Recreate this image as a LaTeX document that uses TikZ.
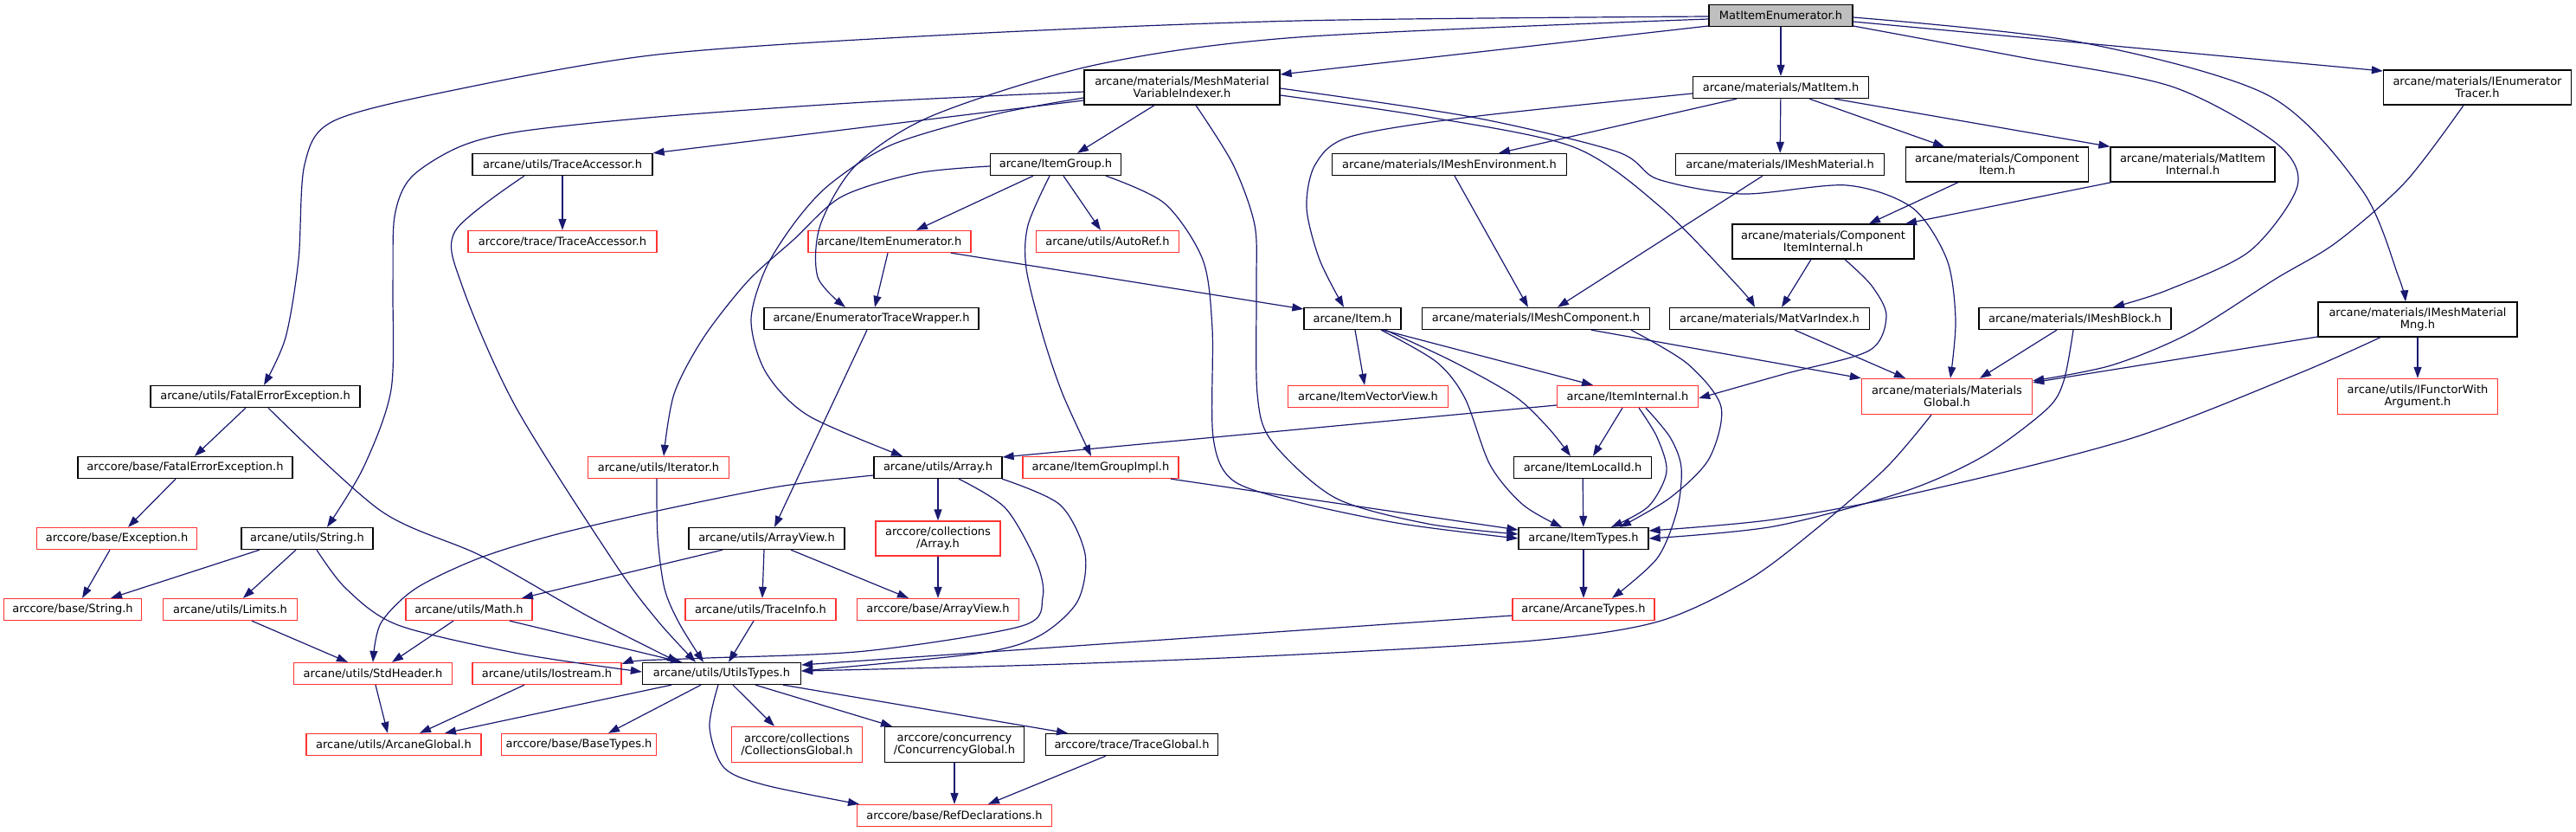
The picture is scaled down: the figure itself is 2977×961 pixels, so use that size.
\documentclass[tikz,border=0pt]{standalone}
\usepackage{fontspec}
\setmainfont{DejaVu Sans}
\usetikzlibrary{arrows.meta}
\definecolor{edgec}{HTML}{191970}
\definecolor{redb}{HTML}{FF3333}
\definecolor{rootfill}{HTML}{BFBFBF}
\begin{document}
\begin{tikzpicture}[x=1pt,y=-1pt,
  box/.style={draw=black, line width=1.3pt, fill=white, minimum height=25pt, inner sep=0pt, align=center, font=\fontsize{13}{14}\selectfont},
  rbox/.style={box, draw=redb},
  e/.style={draw=edgec, line width=1.2pt, -{Triangle[length=13pt,width=9pt]}},
]
\useasboundingbox (0,0) rectangle (2977,961);
% nodes
\node[box, fill=rootfill, minimum width=166pt] (root) at (2058,18) {MatItemEnumerator.h};
\node[box, minimum width=226pt, minimum height=40pt] (mmvi) at (1366,101) {arcane/materials/MeshMaterial\\VariableIndexer.h};
\node[box, minimum width=203pt] (matitem) at (2058,101) {arcane/materials/MatItem.h};
\node[box, minimum width=217pt, minimum height=40pt] (ienumtr) at (2863,101) {arcane/materials/IEnumerator\\Tracer.h};
\node[box, minimum width=208pt] (traceacc) at (650,190) {arcane/utils/TraceAccessor.h};
\node[box, minimum width=151pt] (itemgroup) at (1220,190) {arcane/ItemGroup.h};
\node[box, minimum width=271pt] (imeshenv) at (1675,190) {arcane/materials/IMeshEnvironment.h};
\node[box, minimum width=241pt] (imeshmat) at (2057,190) {arcane/materials/IMeshMaterial.h};
\node[box, minimum width=211pt, minimum height=40pt] (compitem) at (2308,190) {arcane/materials/Component\\Item.h};
\node[box, minimum width=190pt, minimum height=40pt] (matiteminternal) at (2534,190) {arcane/materials/MatItem\\Internal.h};
\node[rbox, minimum width=218pt] (arccoretraceacc) at (650,279) {arccore/trace/TraceAccessor.h};
\node[rbox, minimum width=188pt] (itemenum) at (1028,279) {arcane/ItemEnumerator.h};
\node[rbox, minimum width=165pt] (autoref) at (1280,279) {arcane/utils/AutoRef.h};
\node[box, minimum width=210pt, minimum height=40pt] (compiteminternal) at (2107,279) {arcane/materials/Component\\ItemInternal.h};
\node[box, minimum width=248pt] (etw) at (1007,368) {arcane/EnumeratorTraceWrapper.h};
\node[box, minimum width=112pt] (item) at (1563,368) {arcane/Item.h};
\node[box, minimum width=263pt] (imeshcomp) at (1775,368) {arcane/materials/IMeshComponent.h};
\node[box, minimum width=231pt] (matvarindex) at (2045,368) {arcane/materials/MatVarIndex.h};
\node[box, minimum width=222pt] (imeshblock) at (2398,368) {arcane/materials/IMeshBlock.h};
\node[box, minimum width=230pt, minimum height=40pt] (imeshmatmng) at (2794,369) {arcane/materials/IMeshMaterial\\Mng.h};
\node[box, minimum width=242pt] (fatal) at (295,458) {arcane/utils/FatalErrorException.h};
\node[rbox, minimum width=185pt] (itemvv) at (1581,458) {arcane/ItemVectorView.h};
\node[rbox, minimum width=163pt] (iteminternal) at (1881,458) {arcane/ItemInternal.h};
\node[rbox, minimum width=197pt, minimum height=41pt] (matglobal) at (2250,458) {arcane/materials/Materials\\Global.h};
\node[rbox, minimum width=185pt, minimum height=41pt] (ifunctor) at (2794,458) {arcane/utils/IFunctorWith\\Argument.h};
\node[box, minimum width=248pt] (basefatal) at (214,540) {arccore/base/FatalErrorException.h};
\node[rbox, minimum width=163pt] (iterator) at (761,540) {arcane/utils/Iterator.h};
\node[box, minimum width=148pt] (array) at (1084,540) {arcane/utils/Array.h};
\node[rbox, minimum width=180pt] (itemgroupimpl) at (1272,540) {arcane/ItemGroupImpl.h};
\node[box, minimum width=159pt] (itemlocalid) at (1829,540) {arcane/ItemLocalId.h};
\node[rbox, minimum width=185pt] (exception) at (135,622) {arccore/base/Exception.h};
\node[box, minimum width=152pt] (string) at (355,622) {arcane/utils/String.h};
\node[box, minimum width=180pt] (arrayview) at (886,622) {arcane/utils/ArrayView.h};
\node[rbox, minimum width=144pt, minimum height=40pt] (collarray) at (1084,622) {arccore/collections\\/Array.h};
\node[box, minimum width=150pt] (itemtypes) at (1830,622) {arcane/ItemTypes.h};
\node[rbox, minimum width=159pt] (basestring) at (84,704) {arccore/base/String.h};
\node[rbox, minimum width=155pt] (limits) at (266,704) {arcane/utils/Limits.h};
\node[rbox, minimum width=146pt] (math) at (542,704) {arcane/utils/Math.h};
\node[rbox, minimum width=174pt] (traceinfo) at (879,704) {arcane/utils/TraceInfo.h};
\node[rbox, minimum width=187pt] (basearrayview) at (1084,704) {arccore/base/ArrayView.h};
\node[rbox, minimum width=164pt] (arcanetypes) at (1830,704) {arcane/ArcaneTypes.h};
\node[rbox, minimum width=183pt] (stdheader) at (431,778) {arcane/utils/StdHeader.h};
\node[rbox, minimum width=172pt] (iostream) at (632,778) {arcane/utils/Iostream.h};
\node[box, minimum width=183pt] (utilstypes) at (834,778) {arcane/utils/UtilsTypes.h};
\node[rbox, minimum width=202pt] (arcaneglobal) at (455,860) {arcane/utils/ArcaneGlobal.h};
\node[rbox, minimum width=179pt] (basetypes) at (669,860) {arccore/base/BaseTypes.h};
\node[rbox, minimum width=151pt, minimum height=41pt] (collglobal) at (921,860) {arccore/collections\\/CollectionsGlobal.h};
\node[box, minimum width=161pt, minimum height=41pt] (concglobal) at (1103,860) {arccore/concurrency\\/ConcurrencyGlobal.h};
\node[box, minimum width=199pt] (traceglobal) at (1308,860) {arccore/trace/TraceGlobal.h};
\node[rbox, minimum width=225pt] (refdecl) at (1103,942) {arccore/base/RefDeclarations.h};
% root edges
\draw[e] (root) -- (matitem);
\draw[e] ([yshift=-12pt]root.west) -- ([yshift=15pt]mmvi.east);
\draw[e] ([yshift=-7pt]root.east) -- ([yshift=19pt]ienumtr.west);
\draw[e] plot[smooth] coordinates {([yshift=-2pt]root.east) (2400,48) (2621,110) (2730,220) (2772,320) ([xshift=-14pt]imeshmatmng.north)};
\draw[e] plot[smooth] coordinates {([yshift=-12pt]root.east) (2330,65) (2510,100) (2630,165) (2655,215) (2600,290) (2505,335) ([xshift=44pt]imeshblock.north)};
\draw[e] plot[smooth] coordinates {([yshift=-1pt]root.west) (1500,24) (1100,40) (760,63) (520,105) (385,140) (352,190) (345,300) (330,390) ([xshift=10pt]fatal.north)};
\draw[e] plot[smooth] coordinates {([yshift=-4pt]root.west) (1500,43) (1266,75) (1079,133) (990,190) (948,260) (945,320) ([xshift=-30pt]etw.north)};
% matitem
\draw[e] ([xshift=-51pt]matitem.south) -- ([xshift=57pt]imeshenv.north);
\draw[e] (matitem) -- (imeshmat);
\draw[e] ([xshift=33pt]matitem.south) -- ([xshift=-61pt]compitem.north);
\draw[e] ([xshift=62pt]matitem.south) -- (matiteminternal.north west);
\draw[e] plot[smooth] coordinates {([yshift=-7pt]matitem.west) (1700,135) (1560,158) (1520,190) (1510,240) (1525,300) ([xshift=-10pt]item.north)};
% mmvi
\draw[e] ([xshift=-32pt]mmvi.south) -- ([xshift=25pt]itemgroup.north);
\draw[e] ([yshift=-15pt]mmvi.west) -- (traceacc.north east);
\draw[e] plot[smooth] coordinates {([yshift=-5pt]mmvi.west) (1000,118) (760,135) (600,152) (530,170) (475,205) (456,250) (454,330) (452,450) (420,540) ([xshift=23pt]string.north)};
\draw[e] plot[smooth] coordinates {([yshift=-12pt]mmvi.west) (1150,132) (1031,167) (960,212) (920,255) (885,310) (868,370) (885,430) (934,480) ([xshift=-41pt]array.north)};
\draw[e] plot[smooth] coordinates {([xshift=16pt]mmvi.south) (1425,190) (1450,260) (1452,330) (1453,455) (1470,510) (1543,575) (1650,605) ([yshift=5pt]itemtypes.west)};
\draw[e] plot[smooth] coordinates {([yshift=-9pt]mmvi.east) (1650,135) (1819,170) (1920,240) (2008,330) ([xshift=-17pt]matvarindex.north)};
\draw[e] plot[smooth] coordinates {([yshift=-1pt]mmvi.east) (1700,135) (1868,175) (1916,207) (2013,224) (2134,214) (2210,240) (2250,300) (2260,370) ([xshift=4pt]matglobal.north)};
% itemgroup
\draw[e] ([xshift=-26pt]itemgroup.south) -- ([xshift=31pt]itemenum.north);
\draw[e] ([xshift=9pt]itemgroup.south) -- ([xshift=-8pt]autoref.north);
\draw[e] plot[smooth] coordinates {([xshift=-7pt]itemgroup.south) (1188,260) (1186,310) (1205,387) (1228,455) ([xshift=-11pt]itemgroupimpl.north)};
\draw[e] plot[smooth] coordinates {([xshift=58pt]itemgroup.south) (1346,235) (1390,300) (1401,380) (1402,505) (1425,555) (1500,580) (1620,605) (itemtypes.west)};
\draw[e] plot[smooth] coordinates {([yshift=-2pt]itemgroup.west) (1060,200) (973,227) (917,277) (864,325) (813,390) (779,455) ([xshift=6pt]iterator.north)};
% traceacc
\draw[e] (traceacc) -- (arccoretraceacc);
\draw[e] plot[smooth] coordinates {([xshift=-44pt]traceacc.south) (526,267) (534,330) (596,470) (710,650) (760,717) ([xshift=-30pt]utilstypes.north)};
% itemenum, etw
\draw[e] ([xshift=-2pt]itemenum.south) -- ([xshift=4pt]etw.north);
\draw[e] ([xshift=71pt]itemenum.south) -- ([yshift=11pt]item.west);
\draw[e] ([xshift=-5pt]etw.south) -- ([xshift=9pt]arrayview.north);
% materials
\draw[e] ([xshift=6pt]imeshenv.south) -- ([xshift=-9pt]imeshcomp.north);
\draw[e] ([xshift=-20pt]imeshmat.south) -- ([xshift=25pt]imeshcomp.north);
\draw[e] ([xshift=-45pt]compitem.south) -- ([xshift=53pt]compiteminternal.north);
\draw[e] ([xshift=-94pt]matiteminternal.south) -- ([xshift=95pt]compiteminternal.north);
\draw[e] ([xshift=-14pt]compiteminternal.south) -- ([xshift=14pt]matvarindex.north);
\draw[e] plot[smooth] coordinates {([xshift=25pt]compiteminternal.south) (2163,330) (2180,365) (2160,405) (2062,432) ([yshift=-2pt]iteminternal.east)};
\draw[e] plot[smooth] coordinates {([xshift=-16pt]ienumtr.south) (2780,210) (2700,280) (2630,322) (2530,385) (2440,422) ([yshift=-3pt]matglobal.north east)};
\draw[e] ([yshift=-20pt]imeshmatmng.west) -- ([yshift=-5pt]matglobal.north east);
\draw[e] (imeshmatmng) -- (ifunctor);
\draw[e] plot[smooth] coordinates {([xshift=-43pt]imeshmatmng.south) (2655,432) (2461,507) (2220,568) (2050,600) ([yshift=9pt]itemtypes.east)};
\draw[e] ([xshift=-21pt]imeshblock.south) -- ([xshift=38pt]matglobal.north);
\draw[e] plot[smooth] coordinates {([xshift=-2pt]imeshblock.south) (2385,440) (2365,473) (2292,527) (2200,568) (2050,608) (itemtypes.east)};
\draw[e] ([xshift=64pt]imeshcomp.south) -- (matglobal.north west);
\draw[e] plot[smooth] coordinates {([xshift=110pt]imeshcomp.south) (1950,420) (1989,470) (1975,530) (1930,575) ([xshift=42pt]itemtypes.north)};
\draw[e] ([xshift=29pt]matvarindex.south) -- ([xshift=-48pt]matglobal.north);
\draw[e] plot[smooth] coordinates {([xshift=-18pt]matglobal.south) (2180,540) (2100,610) (2020,670) (1916,718) (1771,740) (1480,757) (1200,768) ([yshift=3pt]utilstypes.east)};
% item level
\draw[e] ([yshift=-7pt]arcanetypes.west) -- ([yshift=10pt]utilstypes.east);
\draw[e] (itemtypes) -- (arcanetypes);
\draw[e] plot[smooth] coordinates {([xshift=21pt]iteminternal.south) (1930,505) (1943,540) (1938,590) (1915,645) ([xshift=33pt]arcanetypes.north)};
\draw[e] plot[smooth] coordinates {([xshift=13pt]iteminternal.south) (1915,505) (1926,545) (1905,585) ([xshift=32pt]itemtypes.north)};
\draw[e] ([xshift=-6pt]iteminternal.south) -- ([xshift=12pt]itemlocalid.north);
\draw[e] ([yshift=-10pt]iteminternal.west) -- ([yshift=12pt]array.east);
\draw[e] ([xshift=3pt]item.south) -- ([xshift=-4pt]itemvv.north);
\draw[e] ([xshift=35pt]item.south) -- ([xshift=-40pt]iteminternal.north);
\draw[e] plot[smooth] coordinates {([xshift=38pt]item.south) (1680,418) (1751,458) (1790,495) ([xshift=-14pt]itemlocalid.north)};
\draw[e] plot[smooth] coordinates {([xshift=33pt]item.south) (1660,418) (1693,460) (1722,537) (1760,583) ([xshift=-25pt]itemtypes.north)};
\draw[e] (itemlocalid) -- (itemtypes);
\draw[e] ([xshift=81pt]itemgroupimpl.south) -- ([yshift=10pt]itemtypes.west);
% left part
\draw[e] ([xshift=-11pt]fatal.south) -- ([xshift=11pt]basefatal.north);
\draw[e] plot[smooth] coordinates {([xshift=15pt]fatal.south) (440,590) (556,642) (680,712) ([xshift=-50pt]utilstypes.north)};
\draw[e] ([xshift=-11pt]basefatal.south) -- ([xshift=13pt]exception.north);
\draw[e] ([xshift=-8pt]exception.south) -- ([xshift=11pt]basestring.north);
\draw[e] ([xshift=-55pt]string.south) -- ([xshift=44pt]basestring.north);
\draw[e] ([xshift=-13pt]string.south) -- ([xshift=15pt]limits.north);
\draw[e] plot[smooth] coordinates {([xshift=11pt]string.south) (400,680) (460,722) (600,755) ([yshift=2pt]utilstypes.west)};
\draw[e] ([xshift=25pt]limits.south) -- ([xshift=-29pt]stdheader.north);
\draw[e] ([xshift=-18pt]math.south) -- ([xshift=22pt]stdheader.north);
\draw[e] ([xshift=47pt]math.south) -- ([xshift=-46pt]utilstypes.north);
\draw[e] ([xshift=3pt]stdheader.south) -- ([xshift=-7pt]arcaneglobal.north);
\draw[e] ([xshift=-26pt]iostream.south) -- ([xshift=30pt]arcaneglobal.north);
\draw[e] ([xshift=-58pt]utilstypes.south) -- ([xshift=59pt]arcaneglobal.north);
\draw[e] ([xshift=-24pt]utilstypes.south) -- ([xshift=34pt]basetypes.north);
\draw[e] ([xshift=13pt]utilstypes.south) -- ([xshift=-26pt]collglobal.north);
\draw[e] ([xshift=39pt]utilstypes.south) -- ([xshift=-72pt]concglobal.north);
\draw[e] ([xshift=71pt]utilstypes.south) -- ([xshift=-74pt]traceglobal.north);
\draw[e] plot[smooth] coordinates {([xshift=-4pt]utilstypes.south) (820,840) (837,887) (885,907) ([xshift=-110pt]refdecl.north)};
\draw[e] (concglobal) -- (refdecl);
\draw[e] ([xshift=-30pt]traceglobal.south) -- ([xshift=39pt]refdecl.north);
\draw[e] plot[smooth] coordinates {([xshift=-2pt]iterator.south) (760,620) (768,680) (785,720) ([xshift=-21pt]utilstypes.north)};
\draw[e] ([xshift=-3pt]arrayview.south) -- ([xshift=2pt]traceinfo.north);
\draw[e] ([xshift=28pt]arrayview.south) -- ([xshift=-34pt]basearrayview.north);
\draw[e] ([xshift=-51pt]arrayview.south) -- ([xshift=61pt]math.north);
\draw[e] ([xshift=-8pt]traceinfo.south) -- ([xshift=8pt]utilstypes.north);
\draw[e] (collarray) -- (basearrayview);
\draw[e] (array) -- (collarray);
\draw[e] plot[smooth] coordinates {([yshift=-9pt]array.west) (900,562) (760,590) (640,618) (553,645) (480,680) (440,720) (stdheader.north)};
\draw[e] plot[smooth] coordinates {([xshift=74pt]array.south) (1225,583) (1254,640) (1245,695) (1200,735) (1128,755) ([yshift=3pt]utilstypes.east)};
\draw[e] plot[smooth] coordinates {([xshift=24pt]array.south) (1162,587) (1198,650) (1205,690) (1181,723) (1000,752) (818,760) (740,763) ([yshift=11pt]iostream.east)};
\end{tikzpicture}
\end{document}
